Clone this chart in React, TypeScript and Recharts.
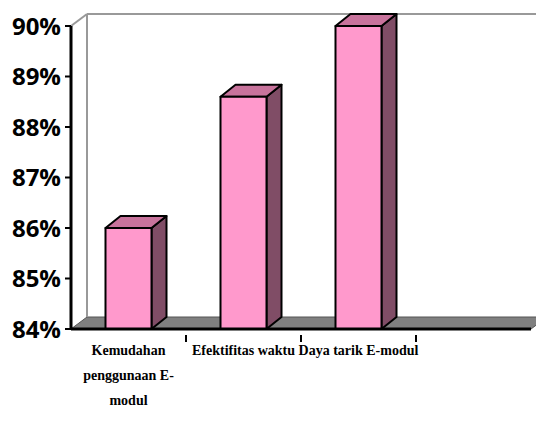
import { BarChart, Bar, XAxis, YAxis, ReferenceArea } from 'recharts';

const categories = ['Kemudahan\npenggunaan E-\nmodul', 'Efektifitas waktu', 'Daya tarik E-modul', ''];
const scores = [0.86, 0.886, 0.9, null];
const yTicks = [0.84, 0.85, 0.86, 0.87, 0.88, 0.89, 0.9];

const data = categories.map((name, i) => ({ name, score: scores[i] }));

// fake 3d depth
const DX = 15;
const DY = 12;

function Bar3D(props: any) {
  const { x, y, width, height } = props;
  if (!height || height <= 0) return null;
  const r = x + width;
  const b = y + height;
  return (
    <g stroke="#000" strokeWidth={2} strokeLinejoin="round">
      <polygon points={`${r},${y} ${r + DX},${y - DY} ${r + DX},${b - DY} ${r},${b}`} fill="#804D66" />
      <polygon points={`${x},${y} ${x + DX},${y - DY} ${r + DX},${y - DY} ${r},${y}`} fill="#C8739C" />
      <rect x={x} y={y} width={width} height={height} fill="#FF99CC" />
    </g>
  );
}

function Walls(props: any) {
  const { x, y, width, height } = props;
  const b = y + height;
  const dx = 16;
  const dy = 12;
  return (
    <g>
      <polygon
        points={`${x},${b} ${x + dx},${b - dy} ${x + width + dx},${b - dy} ${x + width},${b}`}
        fill="#808080"
        stroke="#555"
        strokeWidth={1}
      />
      <line x1={x + dx} y1={y - dy} x2={x + dx} y2={b - dy} stroke="#999" strokeWidth={2} />
      <line x1={x + dx} y1={y - dy} x2={x + width + dx} y2={y - dy} stroke="#999" strokeWidth={2} />
      <line x1={x} y1={y} x2={x + dx} y2={y - dy} stroke="#999" strokeWidth={2} />
    </g>
  );
}

function CategoryTick(props: any) {
  const { x, y, payload, index } = props;
  const lines = String(payload.value).split('\n');
  const off = payload.offset || 0;
  return (
    <g>
      {index > 0 && (
        <line x1={x - off} y1={y - 2} x2={x - off} y2={y + 5} stroke="#000" strokeWidth={2} />
      )}
      {lines.map((ln, i) => (
        <text
          key={i}
          x={x}
          y={y + 18 + i * 25}
          textAnchor="middle"
          fontFamily="'Liberation Serif', 'Times New Roman', serif"
          fontWeight="bold"
          fontSize={14}
          fill="#000"
        >
          {ln}
        </text>
      ))}
    </g>
  );
}

export default function App() {
  return (
    <div style={{ position: 'absolute', left: 0, top: 0, width: 536, height: 422, background: '#fff' }}>
      <BarChart
        width={536}
        height={422}
        data={data}
        margin={{ top: 26, right: 5, bottom: 33, left: 0 }}
        barCategoryGap="30%"
      >
        <ReferenceArea y1={0.84} y2={0.9} shape={Walls} ifOverflow="visible" zIndex={-10} />
        <XAxis
          dataKey="name"
          interval={0}
          height={60}
          tickLine={false}
          axisLine={{ stroke: '#000', strokeWidth: 3 }}
          tick={CategoryTick}
        />
        <YAxis
          domain={[0.84, 0.9]}
          ticks={yTicks}
          width={71}
          tickSize={6}
          tickMargin={4}
          tickLine={{ stroke: '#000', strokeWidth: 2 }}
          axisLine={{ stroke: '#000', strokeWidth: 3 }}
          tickFormatter={(v: number) => `${Math.round(v * 100)}%`}
          tick={{ fill: '#000', fontSize: 24, fontWeight: 'bold', fontFamily: "'Open Sans', sans-serif" }}
        />
        <Bar dataKey="score" shape={Bar3D} isAnimationActive={false} />
      </BarChart>
    </div>
  );
}
